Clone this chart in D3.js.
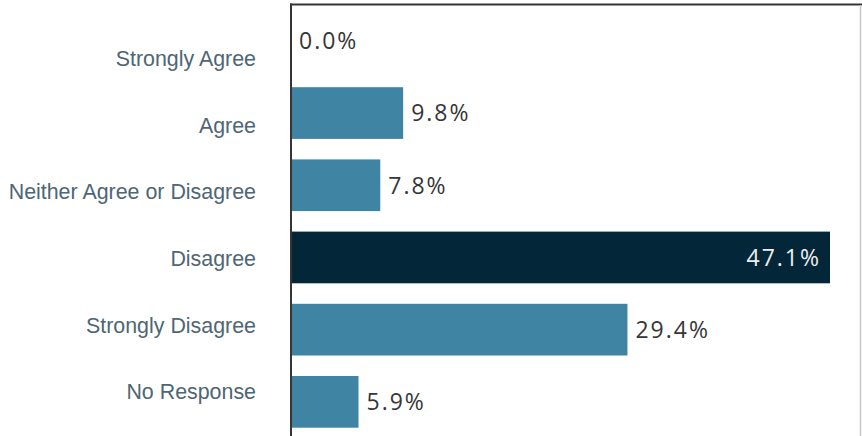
<!DOCTYPE html>
<html>
<head>
<meta charset="utf-8">
<script src="https://cdn.jsdelivr.net/npm/d3@7"></script>
<style>
  html, body { margin: 0; padding: 0; background: #ffffff; }
  svg { display: block; }
</style>
</head>
<body>
<svg id="chart" width="862" height="436"></svg>
<script>
// Survey responses, share of respondents (%)
const categories = ["Strongly Agree", "Agree", "Neither Agree or Disagree", "Disagree", "Strongly Disagree", "No Response"];
const values = [0.0, 9.8, 7.8, 47.1, 29.4, 5.9];
const valueLabels = ["0.0%", "9.8%", "7.8%", "47.1%", "29.4%", "5.9%"];
const highlighted = ["Disagree"];

const data = categories.map((c, i) => ({ category: c, value: values[i], label: valueLabels[i] }));

const svg = d3.select("#chart");
const W = 862, H = 436;

const x = d3.scaleLinear().domain([0, d3.max(values)]).range([291, 830]);

// bar bands
const y = d3.scaleBand().domain(categories)
  .range([4.75, 437.95]).paddingInner(0.284).paddingOuter(0.142);

// category label bands
const yLabel = d3.scaleBand().domain(categories).range([25.1, 424.7]).padding(0);

// frame: top rule and right edge
svg.append("line")
  .attr("x1", 290).attr("x2", 862).attr("y1", 4.5).attr("y2", 4.5)
  .attr("stroke", "#353535").attr("stroke-width", 2);
svg.append("line")
  .attr("x1", 860.5).attr("x2", 860.5).attr("y1", 5).attr("y2", H)
  .attr("stroke", "#c8c8c8").attr("stroke-width", 1.5);

// bars
svg.append("g").selectAll("rect").data(data).join("rect")
  .attr("x", x(0))
  .attr("y", d => y(d.category))
  .attr("width", d => x(d.value) - x(0))
  .attr("height", y.bandwidth())
  .attr("fill", d => highlighted.includes(d.category) ? "#032639" : "#3f84a3");

// category axis
const axis = svg.append("g")
  .attr("transform", `translate(${x(0)},0)`)
  .call(d3.axisLeft(yLabel).tickSize(0).tickPadding(35));
axis.select(".domain").remove();
svg.append("line")
  .attr("x1", 291).attr("x2", 291).attr("y1", 3.5).attr("y2", H)
  .attr("stroke", "#353535").attr("stroke-width", 2);
axis.selectAll("text")
  .attr("font-family", "'Liberation Sans', Arial, sans-serif")
  .attr("font-size", 21.4)
  .attr("fill", "#4e6675")
  .attr("dy", "0.36em");

// value labels
svg.append("g").selectAll("text").data(data).join("text")
  .attr("x", d => highlighted.includes(d.category) ? x(d.value) - 9 : x(d.value) + 8)
  .attr("y", d => y(d.category) + y.bandwidth() / 2)
  .attr("dy", "0.36em")
  .attr("text-anchor", d => highlighted.includes(d.category) ? "end" : "start")
  .attr("font-family", "'Open Sans', sans-serif")
  .attr("font-size", 23)
  .attr("letter-spacing", 2)
  .attr("fill", d => highlighted.includes(d.category) ? "#eeeeee" : "#363636")
  .text(d => d.label);
</script>
</body>
</html>
